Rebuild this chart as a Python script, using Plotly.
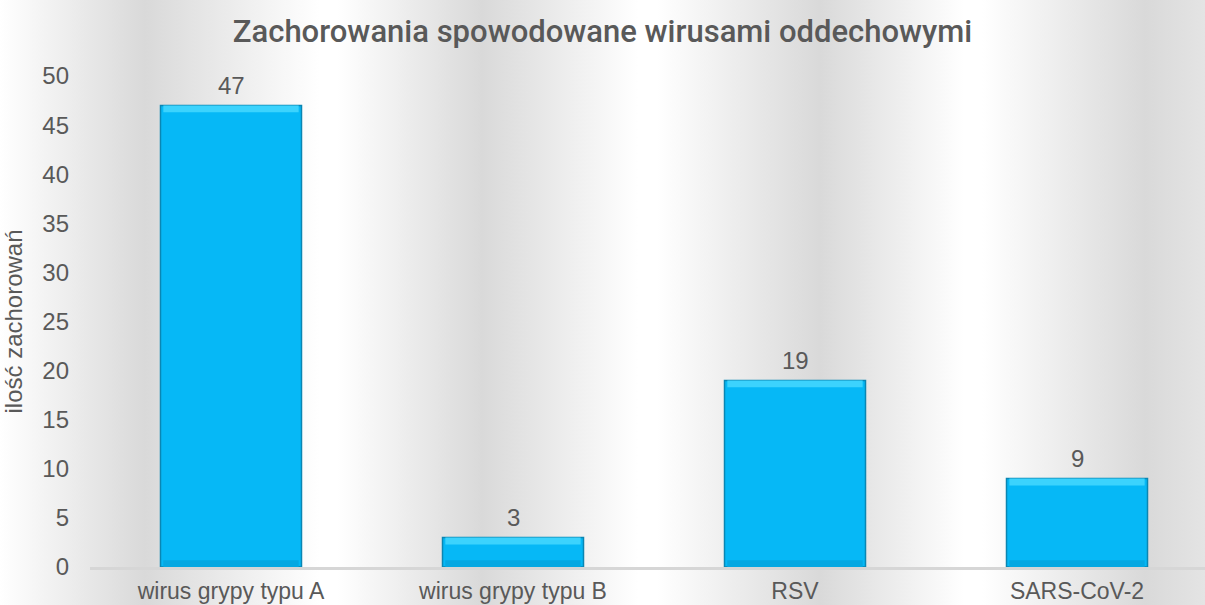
import base64
import plotly.graph_objects as go

categories = ["wirus grypy typu A", "wirus grypy typu B", "RSV", "SARS-CoV-2"]
values = [47, 3, 19, 9]
title_text = "Zachorowania spowodowane wirusami oddechowymi"
y_title = "ilość zachorowań"
y_ticks = [0, 5, 10, 15, 20, 25, 30, 35, 40, 45, 50]

W, H = 1205, 605
L, R, T, B = 90, 0, 76, 38
pw, ph = W - L - R, H - T - B

# background: horizontal banded grey/white gradient
stops = [(0.0, "#ffffff"), (0.12, "#d9d9d9"), (0.265, "#ffffff"), (0.28, "#ffffff"),
         (0.40, "#d9d9d9"), (0.53, "#ffffff"), (0.545, "#ffffff"), (0.68, "#d9d9d9"),
         (0.80, "#ffffff"), (0.815, "#ffffff"), (0.95, "#d9d9d9"), (1.0, "#e4e4e4")]
stop_xml = "".join(f'<stop offset="{o}" stop-color="{c}"/>' for o, c in stops)
svg = (f'<svg xmlns="http://www.w3.org/2000/svg" width="{W}" height="{H}" preserveAspectRatio="none">'
       f'<defs><linearGradient id="g" x1="0" y1="0" x2="1" y2="0">{stop_xml}</linearGradient></defs>'
       f'<rect width="{W}" height="{H}" fill="url(#g)"/></svg>')
src = "data:image/svg+xml;base64," + base64.b64encode(svg.encode()).decode()

font_txt = "Liberation Sans, Arial, sans-serif"
txt_col = "#595959"
xs = list(range(len(categories)))
bev = 0.7  # bevel band thickness in axis units

fig = go.Figure()
# main bar
fig.add_trace(go.Bar(
    x=xs, y=values, width=0.5,
    marker=dict(color="#06b8f6", line=dict(color="#0a86b3", width=1.5)),
    hoverinfo="skip",
))
# bottom shade (bevel)
fig.add_trace(go.Bar(
    x=xs, y=[min(bev, v / 3) for v in values], base=[0] * len(values), width=0.48,
    marker=dict(color="#06a8e2", line=dict(width=0)), hoverinfo="skip",
))
# top highlight (bevel)
fig.add_trace(go.Bar(
    x=xs, y=[min(bev, v / 3) for v in values],
    base=[v - min(bev, v / 3) for v in values], width=0.48,
    marker=dict(color="#3cd3fd", line=dict(width=0)), hoverinfo="skip",
))

annotations = [dict(x=x, y=v, xref="x", yref="y", text=str(v), showarrow=False,
                    yshift=20, yanchor="middle",
                    font=dict(size=24, color=txt_col, family=font_txt))
               for x, v in zip(xs, values)]

fig.update_layout(
    width=W, height=H, barmode="overlay",
    margin=dict(l=L, r=R, t=T, b=B, autoexpand=False),
    paper_bgcolor="#ffffff", plot_bgcolor="rgba(0,0,0,0)",
    showlegend=False,
    title=dict(text=title_text, x=0.5, xref="container", xanchor="center",
               y=1 - 31 / H, yanchor="middle",
               font=dict(family="Roboto, Arial, sans-serif", size=31, color=txt_col, weight=500)),
    images=[dict(source=src, xref="paper", yref="paper",
                 x=-L / pw, y=1 + T / ph, sizex=W / pw, sizey=H / ph,
                 xanchor="left", yanchor="top", sizing="stretch", layer="below")],
    annotations=annotations,
    font=dict(family=font_txt, color=txt_col),
)
fig.update_xaxes(
    range=[-0.5, -0.5 + pw / 282.0],
    tickmode="array", tickvals=xs, ticktext=categories,
    tickfont=dict(size=23, color=txt_col, family=font_txt),
    showline=True, linecolor="#d6d6d6", linewidth=2.5, showgrid=False, zeroline=False,
    ticks="", ticklabelstandoff=2,
)
fig.update_yaxes(
    range=[0, 50], tickmode="array", tickvals=y_ticks,
    tickfont=dict(size=24, color=txt_col, family=font_txt),
    showgrid=False, zeroline=False, showline=False, ticks="",
    ticklabelstandoff=20,
    title=dict(text=y_title, font=dict(size=24, color=txt_col, family=font_txt), standoff=12),
)

fig.write_html("out.html", config={"displayModeBar": False},
               post_script="document.body.style.margin='0';document.body.style.overflow='hidden';")
